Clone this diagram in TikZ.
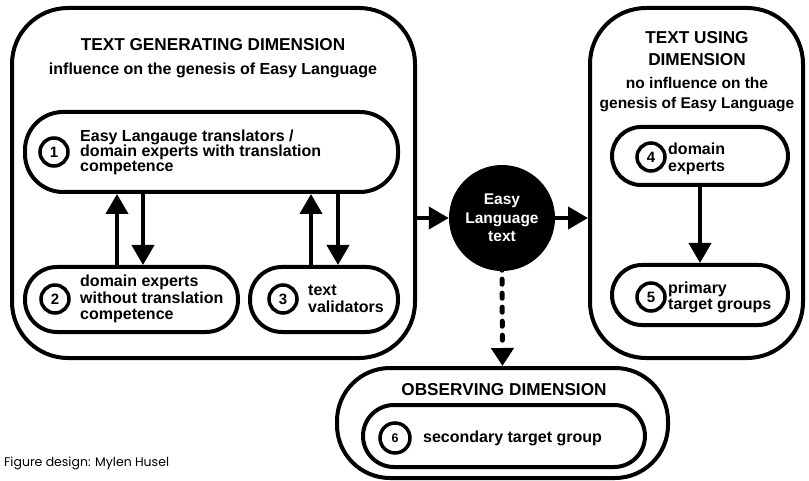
\documentclass[tikz,border=0pt]{standalone}
\usepackage{fontspec}
\setmainfont{Liberation Sans}
\newfontfamily\footfont{Poppins}
\usetikzlibrary{arrows.meta}

\tikzset{
  bigbox/.style={draw, line width=4pt, rounded corners=56pt, fill=white, inner sep=0pt},
  rolebox/.style={draw, line width=4pt, rounded corners=#1, inner sep=0pt},
  numcirc/.style={draw, circle, line width=3.5pt, minimum size=28pt, inner sep=0pt,
    font=\fontsize{15}{15}\selectfont\bfseries},
  label/.style={anchor=west, align=left, inner sep=0pt, font=\fontsize{16}{#1}\selectfont\bfseries},
  heading/.style={align=center, inner sep=0pt, font=\fontsize{17.2}{#1}\selectfont\bfseries},
  subheading/.style={align=center, inner sep=0pt, font=\fontsize{16}{#1}\selectfont\bfseries},
  arr/.style={line width=4pt, -{Triangle[width=22pt,length=20pt]}},
  dotarr/.style={line width=5pt, line cap=round, dash pattern=on 5pt off 9pt,
    -{Triangle[width=22pt,length=18pt]}}
}

\begin{document}
\begin{tikzpicture}[x=1pt,y=-1pt]
\useasboundingbox (0,0) rectangle (809,481);

% the three dimensions
\node[bigbox, minimum width=403pt, minimum height=350pt] (gen) at (213.5,183) {};
\node[bigbox, minimum width=213pt, minimum height=350pt] (use) at (696.5,183) {};
\node[bigbox, rounded corners=53pt, minimum width=331pt, minimum height=110pt] (obs) at (502.5,423) {};

% headings
\node[heading=16] (genT) at (213,45) {TEXT GENERATING DIMENSION};
\node[subheading=16] (genS) at (213,70) {influence on the genesis of Easy Language};
\node[heading=22] (useT) at (697,49) {TEXT USING\\DIMENSION};
\node[subheading=20, font=\fontsize{15.5}{20}\selectfont\bfseries] (useS) at (697,95) {no influence on the\\genesis of Easy Language};
\node[heading=16] (obsT) at (504,390) {OBSERVING DIMENSION};

% role boxes
\node[rolebox=38pt, minimum width=373pt, minimum height=80pt] (b1) at (211.5,152) {};
\node[rolebox=32pt, minimum width=213pt, minimum height=65pt] (b2) at (131.5,299.5) {};
\node[rolebox=32pt, minimum width=148pt, minimum height=65pt] (b3) at (324,299.5) {};
\node[rolebox=29pt, minimum width=176pt, minimum height=58pt] (b4) at (700,156) {};
\node[rolebox=30pt, minimum width=176pt, minimum height=60pt] (b5) at (700,295) {};
\node[rolebox=31pt, minimum width=282pt, minimum height=62pt] (b6) at (504,436) {};

% numbered circles
\node[numcirc] (c1) at (54,152) {1};
\node[numcirc] (c2) at (55,299) {2};
\node[numcirc] (c3) at (283,299) {3};
\node[numcirc] (c4) at (651,157) {4};
\node[numcirc] (c5) at (651,297) {5};
\node[numcirc, minimum size=30pt, font=\fontsize{12.5}{12.5}\selectfont\bfseries] (c6) at (395,438) {6};

% role texts
\node[label=15] (t1) at (80,152) {Easy Langauge translators /\\domain experts with translation\\competence};
\node[label=16.5] (t2) at (80,299) {domain experts\\without translation\\competence};
\node[label=17] (t3) at (308,299) {text\\validators};
\node[label=17] (t4) at (668,159) {domain\\experts};
\node[label=16] (t5) at (668,297) {primary\\target groups};
\node[label=16] (t6) at (423,438) {secondary target group};

% the text itself
\node[circle, fill=black, minimum size=106pt, inner sep=0pt, text=white, align=center,
  font=\fontsize{15.5}{18.5}\selectfont\bfseries] (ell) at (502,218) {Easy\\Language\\text};

% connectors
\draw[arr] (117,0 |- b2.north) -- (117,0 |- b1.south);
\draw[arr] (143,0 |- b1.south) -- (143,0 |- b2.north);
\draw[arr] (311,0 |- b3.north) -- (311,0 |- b1.south);
\draw[arr] (338,0 |- b1.south) -- (338,0 |- b3.north);
\draw[arr] (gen.east |- ell.west) -- (ell.west);
\draw[arr] (ell.east) -- (use.west |- ell.east);
\draw[arr] (b4.south) -- (b5.north);
\draw[dotarr] ([yshift=6pt]ell.south) -- (obs.north);

% credit line
\node[anchor=west, inner sep=0pt, font=\footfont\fontsize{12.5}{12.5}\selectfont] (credit) at (4,463) {Figure design: Mylen Husel};
\end{tikzpicture}
\end{document}
